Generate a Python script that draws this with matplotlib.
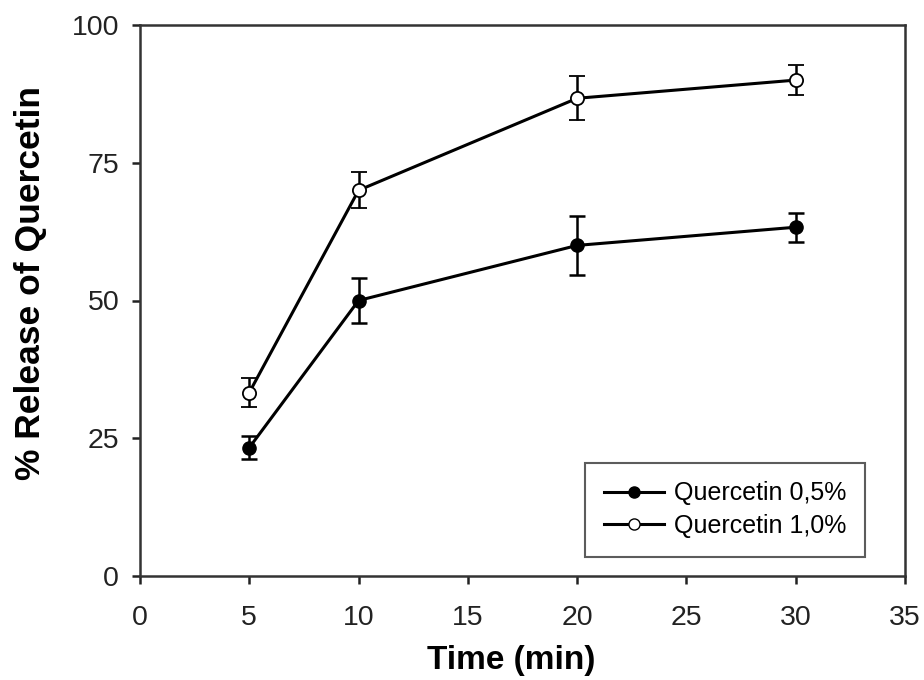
import matplotlib
matplotlib.use("Agg")
import matplotlib.pyplot as plt
from matplotlib.lines import Line2D

plt.rcParams['font.family'] = ['Liberation Sans', 'DejaVu Sans']

time_min = [5, 10, 20, 30]
q05_mean = [23.3, 50.0, 60.0, 63.3]
q05_err = [2.1, 4.0, 5.3, 2.6]
q10_mean = [33.3, 70.0, 86.7, 90.0]
q10_err = [2.6, 3.3, 4.0, 2.7]
labels = ['Quercetin 0,5%', 'Quercetin 1,0%']

fig = plt.figure(figsize=(9.24, 6.8), dpi=100)
ax = fig.add_axes([140 / 924, 1 - 576 / 680, 765 / 924, 551 / 680])

ax.errorbar(time_min, q05_mean, yerr=q05_err, color='black', lw=2.2,
            marker='o', ms=9.5, mfc='black', mec='black', capsize=6,
            elinewidth=1.8, capthick=1.8)
ax.errorbar(time_min, q10_mean, yerr=q10_err, color='black', lw=2.2,
            marker='o', ms=9.5, mfc='white', mec='black', mew=1.3, capsize=6,
            elinewidth=1.8, capthick=1.8)

ax.set_xlim(0, 35)
ax.set_ylim(0, 100)
ax.set_xticks(range(0, 36, 5))
ax.set_yticks([0, 25, 50, 75, 100])
ax.tick_params(direction='out', length=6, width=1.8, labelsize=20.5,
               colors='#222222')
ax.tick_params(axis='x', pad=15)
ax.tick_params(axis='y', pad=9)
for s in ax.spines.values():
    s.set_linewidth(1.8)
    s.set_color('#333333')

ax.set_xlabel('Time (min)', fontsize=24, fontweight='bold')
ax.set_ylabel('% Release of Quercetin', fontsize=25.5, fontweight='bold')
ax.xaxis.set_label_coords(0.485, -0.125)
ax.yaxis.set_label_coords(-0.122, 0.532)

handles = [
    Line2D([], [], color='black', lw=2.2, marker='o', ms=8, mfc='black', mec='black'),
    Line2D([], [], color='black', lw=2.2, marker='o', ms=8, mfc='white', mec='black'),
]
leg = ax.legend(handles, labels, loc='lower right', bbox_to_anchor=(0.948, 0.0345),
                borderaxespad=0, fontsize=18, frameon=True, fancybox=False,
                edgecolor='#333333', borderpad=0.75, handlelength=2.4,
                labelspacing=0.35, handletextpad=0.4)
leg.get_frame().set_linewidth(1.5)

fig.savefig('out.png', dpi=100)
